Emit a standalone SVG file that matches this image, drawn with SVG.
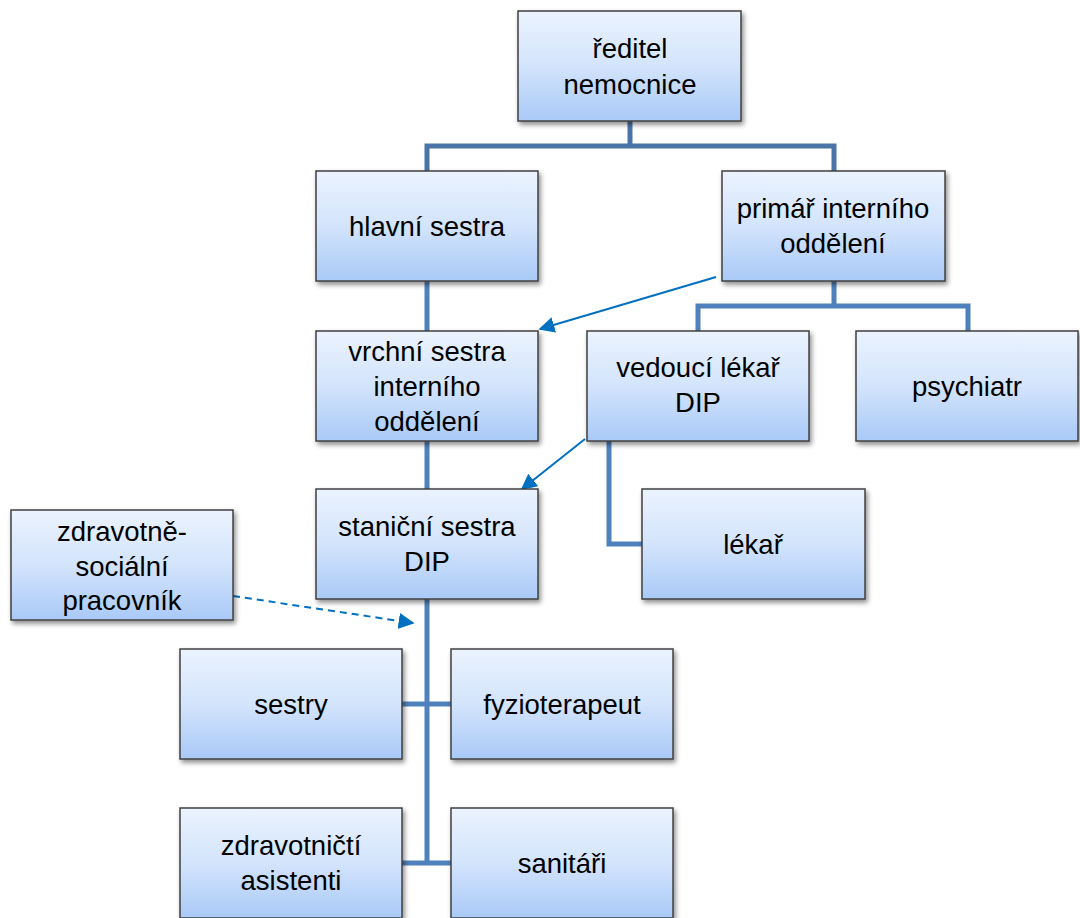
<svg xmlns="http://www.w3.org/2000/svg" width="1080" height="918" viewBox="0 0 1080 918">
<defs>
<linearGradient id="g" x1="0" y1="0" x2="0" y2="1">
<stop offset="0" stop-color="#ebf3fe"/>
<stop offset="0.5" stop-color="#d3e4fc"/>
<stop offset="1" stop-color="#a9c9f7"/>
</linearGradient>
<filter id="sh" x="-10%" y="-10%" width="125%" height="130%">
<feGaussianBlur in="SourceAlpha" stdDeviation="2.5"/>
<feOffset dx="2" dy="3" result="b"/>
<feComponentTransfer><feFuncA type="linear" slope="0.45"/></feComponentTransfer>
<feMerge><feMergeNode/><feMergeNode in="SourceGraphic"/></feMerge>
</filter>
<marker id="ah" viewBox="0 0 10 10" refX="9" refY="5" markerWidth="8" markerHeight="8" orient="auto" markerUnits="strokeWidth">
<path d="M0,0 L10,5 L0,10 Z" fill="#0070c0"/>
</marker>
</defs>
<style>
.box{fill:url(#g);stroke:#404040;stroke-width:1.5;filter:url(#sh)}
.t{font-family:"Liberation Sans",Arial,sans-serif;font-size:27.5px;fill:#000;text-anchor:middle}
.c{fill:none;stroke:#4f81bd;stroke-width:5}
.c0{fill:none;stroke:#4a74a8;stroke-width:5}
.a{fill:none;stroke:#0070c0;stroke-width:2}
</style>
<rect width="1080" height="918" fill="#fff"/>
<g id="connectors">
<path class="c0" d="M630,121 V146 M427,171 V146 H834 V171"/>
<path class="c" d="M427,281 V331 M427,441 V489 M427,599 V863 M402,704 H451 M402,863 H451"/>
<path class="c" d="M834,281 V306 M698,331 V306 H968 V331"/>
<path class="c" d="M609,441 V544 H642"/>
<line class="a" x1="716" y1="277" x2="540" y2="329" marker-end="url(#ah)"/>
<line class="a" x1="585" y1="439" x2="522" y2="489" marker-end="url(#ah)"/>
<line class="a" x1="233" y1="596" x2="413" y2="623" stroke-dasharray="7,5" marker-end="url(#ah)"/>
</g>
<g id="n1"><rect class="box" x="518" y="11" width="223" height="110"/><text class="t" x="630" y="58">ředitel</text><text class="t" x="630" y="94">nemocnice</text></g>
<g id="n2"><rect class="box" x="316" y="171" width="222" height="110"/><text class="t" x="427" y="236">hlavní sestra</text></g>
<g id="n3"><rect class="box" x="722" y="171" width="223" height="110"/><text class="t" x="833" y="218">primář interního</text><text class="t" x="833" y="253">oddělení</text></g>
<g id="n4"><rect class="box" x="316" y="331" width="222" height="110"/><text class="t" x="427" y="361">vrchní sestra</text><text class="t" x="427" y="396">interního</text><text class="t" x="427" y="431">oddělení</text></g>
<g id="n5"><rect class="box" x="587" y="331" width="222" height="110"/><text class="t" x="698" y="377">vedoucí lékař</text><text class="t" x="698" y="412">DIP</text></g>
<g id="n6"><rect class="box" x="856" y="331" width="222" height="110"/><text class="t" x="967" y="396">psychiatr</text></g>
<g id="n7"><rect class="box" x="316" y="489" width="222" height="110"/><text class="t" x="427" y="536">staniční sestra</text><text class="t" x="427" y="571">DIP</text></g>
<g id="n8"><rect class="box" x="642" y="489" width="223" height="110"/><text class="t" x="753" y="554">lékař</text></g>
<g id="n9"><rect class="box" x="11" y="510" width="222" height="110"/><text class="t" x="122" y="541">zdravotně-</text><text class="t" x="122" y="576">sociální</text><text class="t" x="122" y="610">pracovník</text></g>
<g id="n10"><rect class="box" x="180" y="649" width="222" height="110"/><text class="t" x="291" y="714">sestry</text></g>
<g id="n11"><rect class="box" x="451" y="649" width="222" height="110"/><text class="t" x="562" y="714">fyzioterapeut</text></g>
<g id="n12"><rect class="box" x="180" y="808" width="222" height="110"/><text class="t" x="291" y="855">zdravotničtí</text><text class="t" x="291" y="890">asistenti</text></g>
<g id="n13"><rect class="box" x="451" y="808" width="222" height="110"/><text class="t" x="562" y="873">sanitáři</text></g>
</svg>
